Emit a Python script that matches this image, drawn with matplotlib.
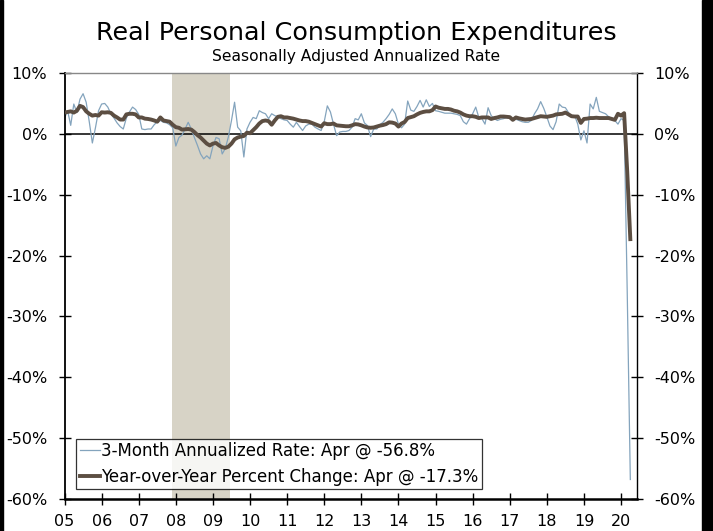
import numpy as np
import matplotlib.pyplot as plt
from matplotlib.patches import Rectangle

# monthly data, Jan 2005 - Apr 2020 (percent)
yoy = [
    3.5, 3.6, 3.7, 3.5, 3.8, 4.6, 4.4, 3.7, 3.3, 3.0, 3.1, 3.0,        # 2005
    3.55, 3.5, 3.55, 3.45, 3.0, 2.7, 2.35, 2.35, 3.2, 3.3, 3.3, 3.2,   # 2006
    2.7, 2.7, 2.5, 2.45, 2.35, 2.2, 2.0, 2.7, 2.2, 2.1, 2.0, 1.5,      # 2007
    1.1, 1.0, 0.7, 0.75, 0.8, 0.7, 0.3, -0.2, -0.6, -1.1, -1.6, -1.9,  # 2008
    -1.6, -1.5, -1.9, -2.2, -2.3, -2.1, -1.6, -0.9, -0.6, -0.45, -0.35, 0.2,  # 2009
    0.1, 0.6, 1.1, 1.7, 2.1, 2.2, 2.1, 1.5, 2.2, 2.8, 2.9, 2.7,        # 2010
    2.7, 2.6, 2.5, 2.35, 2.2, 2.1, 2.1, 2.0, 1.8, 1.6, 1.4, 1.2,       # 2011
    1.75, 1.6, 1.6, 1.7, 1.4, 1.35, 1.3, 1.25, 1.25, 1.4, 1.6, 1.55,   # 2012
    1.4, 1.2, 1.05, 1.0, 1.05, 1.2, 1.35, 1.45, 1.6, 1.9, 1.85, 1.7,   # 2013
    1.2, 1.7, 1.95, 2.6, 2.75, 2.9, 3.2, 3.45, 3.6, 3.7, 3.7, 3.9,     # 2014
    4.5, 4.3, 4.2, 4.1, 4.1, 4.0, 3.8, 3.7, 3.5, 3.2, 3.0, 2.9,        # 2015
    2.9, 2.8, 2.6, 2.7, 2.7, 2.7, 2.45, 2.6, 2.7, 2.85, 2.85, 2.8,     # 2016
    2.75, 2.3, 2.7, 2.55, 2.45, 2.35, 2.4, 2.45, 2.6, 2.75, 2.9, 2.85, # 2017
    2.8, 2.9, 3.0, 3.2, 3.25, 3.3, 3.5, 3.2, 2.9, 2.85, 2.85, 1.8,     # 2018
    2.45, 2.5, 2.6, 2.6, 2.65, 2.6, 2.6, 2.6, 2.6, 2.45, 2.3, 3.3,     # 2019
    3.0, 3.4, -6.2, -17.3,                                             # 2020
]

ann3m = [
    2.6, 3.8, 1.4, 4.9, 3.5, 5.7, 6.6, 5.2, 2.0, -1.5, 1.0, 3.8,       # 2005
    4.9, 5.0, 4.4, 3.3, 2.6, 1.8, 1.2, 0.8, 2.6, 3.6, 4.4, 4.0,        # 2006
    3.2, 0.8, 0.7, 0.8, 0.8, 1.5, 2.0, 2.2, 1.9, 1.8, 1.5, 1.0,        # 2007
    -2.0, -0.6, -0.2, 0.8, 1.9, 0.8, -0.6, -1.9, -3.3, -4.1, -3.6, -4.1,  # 2008
    -2.0, -0.6, -0.8, -3.3, -2.4, -0.5, 2.2, 5.2, 1.1, 0.5, -3.8, 0.8,    # 2009
    1.9, 2.7, 2.5, 3.8, 3.5, 3.3, 2.5, 3.3, 3.0, 2.8, 2.5, 2.3,        # 2010
    2.2, 1.6, 1.1, 1.9, 1.2, 0.55, 1.3, 1.6, 1.6, 1.1, 0.8, 0.55,      # 2011
    2.0, 4.6, 3.6, 1.6, -0.3, 0.3, 0.4, 0.4, 0.55, 1.1, 2.5, 2.3,      # 2012
    3.3, 1.8, 1.35, -0.45, 0.8, 0.8, 1.5, 1.9, 2.5, 3.2, 4.1, 3.3,     # 2013
    1.6, 1.0, 1.6, 5.4, 3.9, 3.7, 4.5, 5.5, 4.4, 5.6, 4.5, 5.0,        # 2014
    3.8, 3.7, 3.55, 3.4, 3.4, 3.4, 3.3, 3.2, 3.0, 2.0, 1.6, 2.5,       # 2015
    3.3, 4.4, 2.7, 2.5, 1.6, 4.3, 3.0, 2.5, 2.2, 2.4, 2.5, 2.7,        # 2016
    2.6, 2.5, 2.4, 2.2, 2.0, 1.9, 1.9, 2.2, 3.3, 4.1, 5.3, 4.2,        # 2017
    2.8, 1.3, 0.7, 2.0, 4.9, 4.4, 4.3, 3.5, 2.7, 3.0, 1.6, -1.0,       # 2018
    0.5, -1.5, 4.9, 4.1, 6.0, 3.7, 3.5, 3.3, 2.8, 2.5, 2.2, 1.6,       # 2019
    2.5, 2.2, -26.0, -56.8,                                            # 2020
]

years = list(range(2005, 2021))
year_labels = ['%02d' % (y % 100) for y in years]
recession = (2007.9, 2009.46)

t = 2005 + np.arange(len(yoy)) / 12.0

plt.rcParams['font.family'] = 'DejaVu Sans'
fig = plt.figure(figsize=(7.13, 5.31), dpi=100)
ax = fig.add_axes([0.0905, 0.0603, 0.8029, 0.8022])

ax.axvspan(recession[0], recession[1], color='#d7d3c6', zorder=0, lw=0)
ax.axhline(0, color='black', lw=1.1, zorder=1)

ax.plot(t, ann3m, color='#84a4bd', lw=0.9, zorder=2,
        label='3-Month Annualized Rate: Apr @ -56.8%')
ax.plot(t, yoy, color='#5c4e42', lw=2.8, zorder=3,
        label='Year-over-Year Percent Change: Apr @ -17.3%')

ax.set_xlim(2005, 2020.43)
ax.set_ylim(-60, 10)
ax.set_xticks(years)
ax.set_xticklabels(year_labels)
ax.set_yticks(range(-60, 11, 10))
ax.set_yticklabels(['%d%%' % v for v in range(-60, 11, 10)])

ax.tick_params(axis='both', direction='inout', length=9, width=1,
               labelsize=11.5, color='black')
ax.tick_params(axis='y', right=True, labelright=True, pad=8)
ax.tick_params(axis='x', pad=6)

ax.spines['top'].set_color('#888888')
ax.spines['top'].set_linewidth(1.0)
ax.spines['bottom'].set_linewidth(1.8)
ax.spines['left'].set_linewidth(1.3)
ax.spines['right'].set_linewidth(1.0)

leg = ax.legend(loc='lower left', bbox_to_anchor=(0.012, 0.012), fontsize=12,
                frameon=True, fancybox=False, handlelength=1.2, handletextpad=0.1,
                borderpad=0.2, labelspacing=0.45, borderaxespad=0.3)
leg.get_frame().set_edgecolor('black')
leg.get_frame().set_linewidth(0.9)

fig.text(0.5, 0.938, 'Real Personal Consumption Expenditures', ha='center',
         va='center', fontsize=18.3)
fig.text(0.5, 0.894, 'Seasonally Adjusted Annualized Rate', ha='center',
         va='center', fontsize=11.2)

# black frame strips at the image edges
fig.patches.append(Rectangle((0, 0), 3 / 713, 1, transform=fig.transFigure,
                             color='black', zorder=10))
fig.patches.append(Rectangle((702 / 713, 0), 11 / 713, 1, transform=fig.transFigure,
                             color='black', zorder=10))

fig.savefig('out.png', dpi=100)
